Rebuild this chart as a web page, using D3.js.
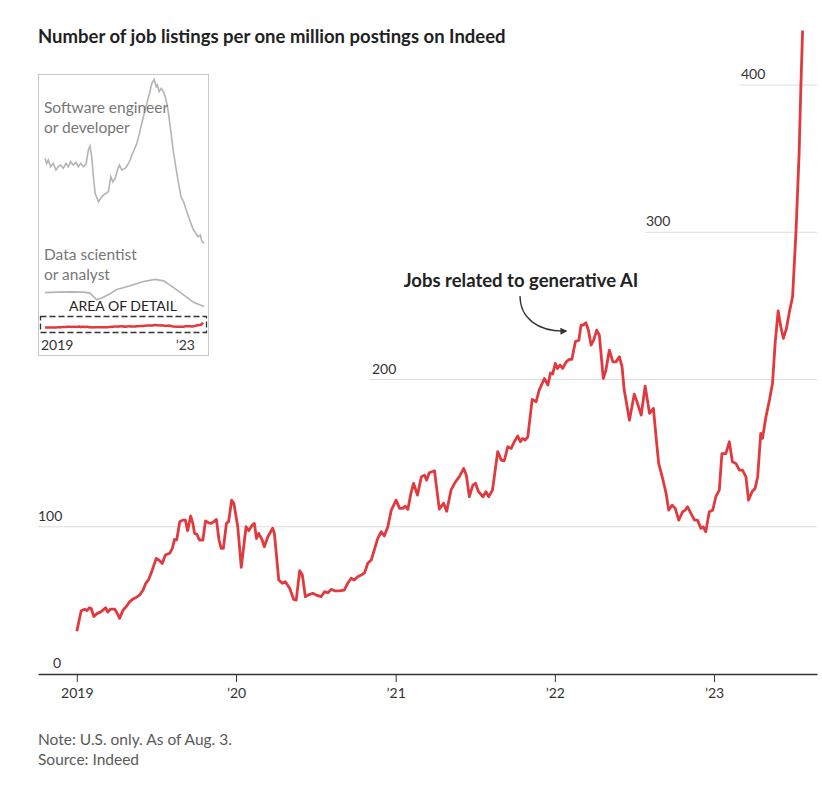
<!DOCTYPE html>
<html>
<head>
<meta charset="utf-8">
<script src="https://cdn.jsdelivr.net/npm/d3@7"></script>
<style>
  body { margin: 0; background: #fff; }
  text { font-family: Lato, "Noto Sans", sans-serif; }
</style>
</head>
<body>
<svg width="822" height="799"></svg>
<script>
// AI-related job listings per one million postings (weekly)
var aiDates = [
  "2019-01-01","2019-01-11","2019-01-19","2019-01-24","2019-01-30","2019-02-03","2019-02-09","2019-02-16","2019-02-24","2019-03-02",
  "2019-03-08","2019-03-13","2019-03-19","2019-03-29","2019-04-03","2019-04-09","2019-04-17","2019-04-24","2019-05-02","2019-05-10",
  "2019-05-17","2019-05-25","2019-06-02","2019-06-08","2019-06-15","2019-06-23","2019-07-02","2019-07-08","2019-07-16","2019-07-23",
  "2019-08-02","2019-08-08","2019-08-13","2019-08-18","2019-08-25","2019-09-01","2019-09-07","2019-09-12","2019-09-19","2019-09-24",
  "2019-09-28","2019-10-03","2019-10-09","2019-10-17","2019-10-23","2019-10-30","2019-11-05","2019-11-11","2019-11-17","2019-11-23",
  "2019-11-28","2019-12-03","2019-12-10","2019-12-15","2019-12-22","2019-12-27","2020-01-05","2020-01-13","2020-01-24","2020-01-30",
  "2020-02-07","2020-02-12","2020-02-17","2020-02-22","2020-03-01","2020-03-06","2020-03-14","2020-03-25","2020-03-29","2020-04-08",
  "2020-04-16","2020-04-23","2020-05-03","2020-05-12","2020-05-18","2020-05-26","2020-06-01","2020-06-08","2020-06-14","2020-06-25",
  "2020-07-03","2020-07-14","2020-07-22","2020-07-30","2020-08-06","2020-08-14","2020-08-25","2020-09-05","2020-09-13","2020-09-21",
  "2020-09-28","2020-10-06","2020-10-14","2020-10-22","2020-10-29","2020-11-06","2020-11-13","2020-11-21","2020-11-29","2020-12-06",
  "2020-12-14","2020-12-22","2021-01-02","2021-01-10","2021-01-17","2021-01-23","2021-01-29","2021-02-05","2021-02-11","2021-02-20",
  "2021-03-01","2021-03-08","2021-03-13","2021-03-19","2021-03-31","2021-04-11","2021-04-21","2021-04-28","2021-05-08","2021-05-18",
  "2021-05-27","2021-06-06","2021-06-12","2021-06-19","2021-06-27","2021-07-03","2021-07-10","2021-07-20","2021-07-27","2021-08-02",
  "2021-08-11","2021-08-23","2021-08-31","2021-09-07","2021-09-15","2021-09-23","2021-09-30","2021-10-08","2021-10-14","2021-10-19",
  "2021-10-25","2021-10-31","2021-11-10","2021-11-19","2021-11-26","2021-12-08","2021-12-16","2021-12-22","2021-12-27","2022-01-02",
  "2022-01-07","2022-01-13","2022-01-19","2022-01-27","2022-02-03","2022-02-09","2022-02-17","2022-02-25","2022-03-02","2022-03-07",
  "2022-03-13","2022-03-19","2022-03-25","2022-03-31","2022-04-07","2022-04-13","2022-04-22","2022-04-28","2022-05-06","2022-05-14",
  "2022-05-21","2022-05-29","2022-06-04","2022-06-09","2022-06-21","2022-07-02","2022-07-07","2022-07-18","2022-07-27","2022-08-06",
  "2022-08-15","2022-08-21","2022-08-27","2022-09-05","2022-09-13","2022-09-19","2022-09-27","2022-10-04","2022-10-12","2022-10-21",
  "2022-10-27","2022-11-01","2022-11-09","2022-11-17","2022-11-24","2022-12-02","2022-12-07","2022-12-13","2022-12-21","2022-12-29",
  "2023-01-05","2023-01-13","2023-01-19","2023-01-28","2023-02-05","2023-02-12","2023-02-20","2023-02-28","2023-03-07","2023-03-15",
  "2023-03-21","2023-03-29","2023-04-05","2023-04-11","2023-04-18","2023-04-22","2023-04-30","2023-05-08","2023-05-15","2023-05-21",
  "2023-05-28","2023-06-03","2023-06-09","2023-06-16","2023-06-22","2023-06-30","2023-07-08","2023-07-15","2023-07-19","2023-07-23"
];
var aiValues = [
  29, 43, 44, 43, 45, 44.5, 39, 41, 42, 43.4,
  45, 42, 44, 44, 41.6, 37.8, 43.4, 45.7, 49, 51,
  52, 53.6, 57, 61.6, 64.3, 70.6, 78.5, 77.4, 75, 80.8,
  82, 85.3, 91.4, 91, 103.4, 104.5, 104.5, 97.3, 107.3, 102.3,
  95.5, 95, 91, 91, 104, 102.7, 102.3, 103.4, 105, 91,
  85.3, 85.3, 102.3, 103.4, 118, 116, 100, 72.4, 100, 97.3,
  101, 102.3, 92, 95.5, 91, 86.4, 93.2, 99, 95.5, 63.8,
  61.6, 62.7, 58.2, 50.7, 50.2, 70.1, 67.2, 52.5, 53.6, 54.8,
  53.6, 52.5, 55.9, 55.2, 57.5, 56.5, 56.5, 57, 61.6, 65,
  63.8, 66, 67.2, 68.8, 75.2, 77.4, 84.2, 92.1, 96.6, 93.7,
  100, 111.3, 118.1, 112.5, 112.5, 114, 111.8, 122.7, 129.5, 121.5,
  134, 135, 131.7, 136.7, 138, 112, 116, 110.5, 125, 130.5,
  134, 139.6, 135, 120.4, 128.3, 129.5, 123.8, 120.4, 123.8, 120.4,
  125, 151, 145.3, 144.8, 154.3, 153.2, 157.7, 161.6, 157.7, 160,
  158.9, 161, 186.5, 184.9, 192.8, 200.7, 196.2, 204.5, 203.7, 210.9,
  207.5, 209.8, 207.5, 212, 213.6, 213.6, 225.7, 226.7, 236.9, 236.9,
  238.5, 233.5, 223.4, 226.7, 233.5, 230.1, 200.7, 206.4, 220, 212,
  212, 215.4, 208.7, 192.8, 172.4, 190, 186, 175.8, 195.5, 177,
  180.4, 161, 143, 132.9, 122.7, 111.3, 114.7, 112.5, 104.5, 110.2,
  111.3, 113.6, 109.1, 104.5, 104.5, 98.9, 100, 96.6, 110.2, 111.3,
  120.4, 124.9, 149.7, 149.7, 157.7, 144.1, 143, 138.5, 138.5, 134,
  118.1, 123.8, 126, 134, 163.4, 160, 174.7, 186, 197.4, 224.5,
  246.6, 235.8, 227.9, 234.7, 244.9, 256.1, 301.4, 353.5, 398.7, 437
];

// inset: software engineer or developer
var sweDates = [
  "2019-01-01","2019-01-18","2019-02-05","2019-03-01","2019-03-29","2019-04-26","2019-05-21","2019-06-14","2019-07-13","2019-08-10",
  "2019-09-03","2019-09-28","2019-10-26","2019-11-23","2019-12-18","2020-01-12","2020-02-09","2020-03-08","2020-04-02","2020-04-19",
  "2020-05-07","2020-05-25","2020-06-12","2020-07-17","2020-08-11","2020-09-08","2020-10-06","2020-10-30","2020-11-24","2020-12-15",
  "2021-01-09","2021-02-02","2021-02-23","2021-03-20","2021-04-24","2021-05-19","2021-06-16","2021-07-04","2021-07-28","2021-08-25",
  "2021-09-22","2021-10-17","2021-11-11","2021-12-09","2022-01-06","2022-01-31","2022-02-24","2022-03-17","2022-03-31","2022-04-18",
  "2022-05-09","2022-06-02","2022-06-20","2022-07-07","2022-07-25","2022-08-12","2022-08-30","2022-09-17","2022-10-15","2022-11-08",
  "2022-12-03","2022-12-31","2023-01-28","2023-02-22","2023-03-18","2023-04-15","2023-05-10","2023-05-31","2023-06-25","2023-07-13",
  "2023-08-03"
];
var sweValues = [
  13850, 13440, 13710, 13170, 13440, 12900, 13170, 13300, 13030, 13440,
  13170, 13580, 13300, 13500, 13170, 13440, 13170, 13360, 14530, 14860,
  13990, 12350, 11000, 10310, 10590, 10860, 11000, 11130, 12350, 11940,
  12220, 12900, 13300, 12900, 13030, 13300, 13710, 14120, 14530, 15070,
  15890, 16710, 17520, 18340, 19160, 19970, 20300, 19700, 19840, 19290,
  19560, 19290, 18880, 18340, 17520, 16430, 15350, 14260, 12900, 11810,
  10720, 10310, 9630, 9090, 8540, 8000, 7730, 7450, 7590, 7050,
  6910
];

// inset: data scientist or analyst
var dsDates = [
  "2019-01-01","2019-05-04","2019-09-22","2020-02-09","2020-04-19","2020-06-29","2020-08-21","2020-11-17","2021-01-27","2021-06-16",
  "2021-11-04","2022-03-07","2022-06-02","2022-09-17","2022-12-31","2023-04-15","2023-08-03"
];
var dsValues = [
  2885, 2930, 2950, 2930, 2850, 2300, 2450, 2800, 3150, 3450,
  3800, 3970, 3850, 3300, 2700, 2100, 1750
];

var yearTicks = ["2019-01-01","2020-01-01","2021-01-01","2022-01-01","2023-01-01"];
var yearLabels = ["2019", "\u201920", "\u201921", "\u201922", "\u201923"];
var yTicks = [0, 100, 200, 300, 400];

// where each gridline (and its label) begins, so it stays clear of the line
var gridStartX = [38, 38, 370, 645, 740];
var labelX = [53, 38, 372, 646, 741];

var parse = d3.timeParse("%Y-%m-%d");
var ai = aiDates.map(function(d, i) { return {date: parse(d), value: aiValues[i]}; });
var swe = sweDates.map(function(d, i) { return {date: parse(d), value: sweValues[i]}; });
var ds = dsDates.map(function(d, i) { return {date: parse(d), value: dsValues[i]}; });

var svg = d3.select("svg");
var red = "#e03a3e";

var x = d3.scaleTime()
  .domain([parse("2018-10-04"), parse("2023-08-25")])
  .range([38, 817]);
var y = d3.scaleLinear()
  .domain([0, 400])
  .range([674, 85]);

// title
svg.append("text")
  .attr("x", 38).attr("y", 43)
  .attr("font-size", 18.5).attr("font-weight", 700).attr("fill", "#222")
  .text("Number of job listings per one million postings on Indeed");

// gridlines + labels
yTicks.forEach(function(t, i) {
  if (t > 0) {
    svg.append("line")
      .attr("x1", gridStartX[i]).attr("x2", 817)
      .attr("y1", y(t)).attr("y2", y(t))
      .attr("stroke", "#dcdcdc").attr("stroke-width", 1);
  }
  svg.append("text")
    .attr("x", labelX[i]).attr("y", y(t) - 6)
    .attr("font-size", 14).attr("fill", "#333")
    .text(t);
});

// x axis
var xAxis = d3.axisBottom(x)
  .tickValues(yearTicks.map(parse))
  .tickFormat(function(d, i) { return yearLabels[i]; })
  .tickSize(8).tickSizeOuter(0).tickPadding(6);
var gx = svg.append("g").attr("transform", "translate(0," + y(0) + ")").call(xAxis);
gx.select(".domain").attr("stroke", "#333").attr("stroke-width", 1.5);
gx.selectAll(".tick line").attr("stroke", "#333").attr("stroke-width", 1);
gx.selectAll(".tick text").attr("font-size", 14).attr("fill", "#333")
  .attr("font-family", "Lato, sans-serif");

// main line
var line = d3.line()
  .x(function(d) { return x(d.date); })
  .y(function(d) { return y(d.value); });
svg.append("path").datum(ai)
  .attr("d", line)
  .attr("fill", "none").attr("stroke", red)
  .attr("stroke-width", 2.8).attr("stroke-linejoin", "round");

// annotation
svg.append("text")
  .attr("x", 521).attr("y", 287).attr("text-anchor", "middle")
  .attr("font-size", 18.5).attr("font-weight", 700).attr("fill", "#222")
  .text("Jobs related to generative AI");
svg.append("defs").append("marker")
  .attr("id", "arrow").attr("viewBox", "0 0 10 10")
  .attr("refX", 8).attr("refY", 5)
  .attr("markerWidth", 7).attr("markerHeight", 7)
  .attr("markerUnits", "userSpaceOnUse")
  .attr("orient", "auto")
  .append("path").attr("d", "M0,0L10,5L0,10z").attr("fill", "#333");
svg.append("path")
  .attr("d", "M520,296C520,318 538,332 566,331")
  .attr("fill", "none").attr("stroke", "#333").attr("stroke-width", 1.3)
  .attr("marker-end", "url(#arrow)");

// inset
var inset = svg.append("g");
inset.append("rect")
  .attr("x", 38.5).attr("y", 74.5).attr("width", 170).attr("height", 281)
  .attr("fill", "#fff").attr("stroke", "#c8c8c8");

var xi = d3.scaleTime()
  .domain([parse("2019-01-01"), parse("2023-08-03")])
  .range([45, 204]);
var yi = d3.scaleLinear()
  .domain([0, 20000])
  .range([328, 83]);
var lineI = d3.line()
  .x(function(d) { return xi(d.date); })
  .y(function(d) { return yi(d.value); });

inset.append("path").datum(swe).attr("d", lineI)
  .attr("fill", "none").attr("stroke", "#b4b4b4").attr("stroke-width", 1.6);
inset.append("path").datum(ds).attr("d", lineI)
  .attr("fill", "none").attr("stroke", "#b4b4b4").attr("stroke-width", 1.6);

inset.selectAll("text.lbl")
  .data([["Software engineer", 113], ["or developer", 133], ["Data scientist", 260], ["or analyst", 280]])
  .enter().append("text")
  .attr("x", 44).attr("y", function(d) { return d[1]; })
  .attr("font-size", 15.5).attr("fill", "#777")
  .text(function(d) { return d[0]; });

inset.append("text")
  .attr("x", 123).attr("y", 311).attr("text-anchor", "middle")
  .attr("font-size", 14).attr("fill", "#222")
  .text("AREA OF DETAIL");
inset.append("rect")
  .attr("x", 40.5).attr("y", 316.5).attr("width", 166).attr("height", 16)
  .attr("fill", "none").attr("stroke", "#333").attr("stroke-width", 1.3)
  .attr("stroke-dasharray", "6,3");
inset.append("path").datum(ai).attr("d", lineI)
  .attr("fill", "none").attr("stroke", red).attr("stroke-width", 2.5);

inset.append("text").attr("x", 41).attr("y", 350)
  .attr("font-size", 14).attr("fill", "#333").text("2019");
inset.append("text").attr("x", 195).attr("y", 350).attr("text-anchor", "end")
  .attr("font-size", 14).attr("fill", "#333").text("\u201923");

// notes
svg.append("text").attr("x", 38).attr("y", 745)
  .attr("font-size", 15.5).attr("fill", "#5a5a5a")
  .text("Note: U.S. only. As of Aug. 3.");
svg.append("text").attr("x", 38).attr("y", 765)
  .attr("font-size", 15.5).attr("fill", "#5a5a5a")
  .text("Source: Indeed");
</script>
</body>
</html>
